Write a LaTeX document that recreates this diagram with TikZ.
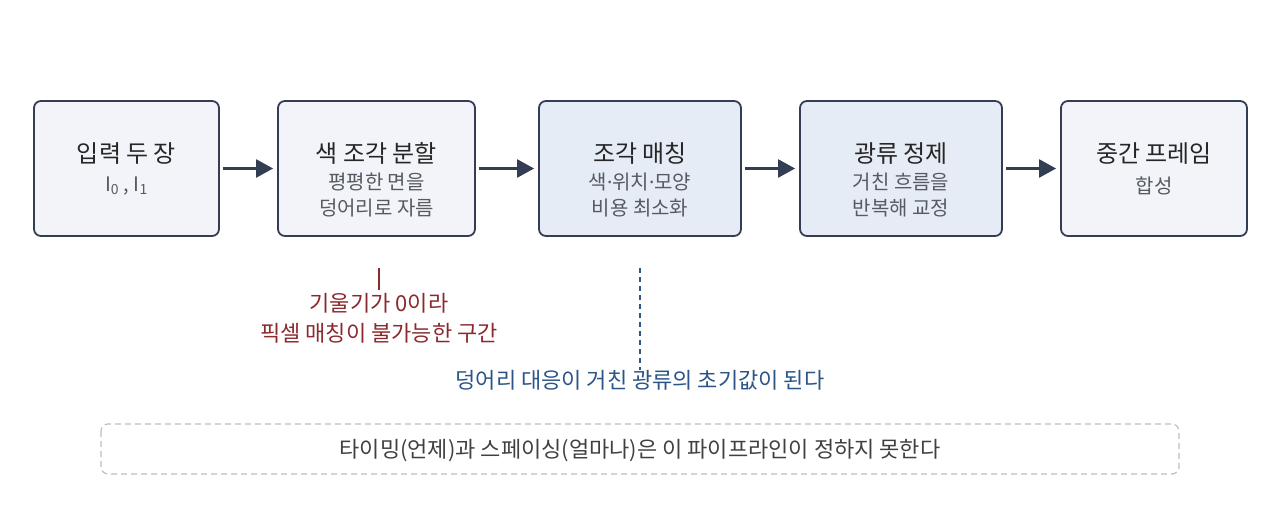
\documentclass[tikz,border=0pt]{standalone}
\usepackage{fontspec}
\setmainfont{Noto Sans CJK KR}
\newfontfamily\latinsans{Noto Sans}
\usetikzlibrary{arrows.meta, positioning}

\definecolor{edge}{HTML}{333D54}
\definecolor{pale}{HTML}{F2F4F9}
\definecolor{paleblue}{HTML}{E6ECF6}
\definecolor{subgray}{HTML}{555A63}
\definecolor{noteRed}{HTML}{8B2A2E}
\definecolor{noteBlue}{HTML}{2B5587}
\definecolor{boxgray}{HTML}{BDBDBD}

\newcommand{\mdot}{{\latinsans ·}}

\begin{document}
\begin{tikzpicture}[x=1pt, y=-1pt, thick,
    stage/.style={draw=edge, line width=1.8pt, rounded corners=7pt, fill=pale, minimum height=135pt},
    ttl/.style={font=\fontsize{24}{28}\selectfont, text=black!85},
    sub/.style={font=\fontsize{20}{26}\selectfont, text=subgray, align=center},
    note/.style={font=\fontsize{22}{30}\selectfont, align=center, inner sep=0pt},
    flow/.style={-{Triangle[length=17pt, width=18pt]}, draw=edge, fill=edge, line width=2.4pt}]
    \useasboundingbox (0,0) rectangle (1280,505);

    % pipeline stages
    \node[stage, minimum width=185pt] (inp) at (126.5,168.5) {};
    \node[stage, minimum width=197pt] (seg) at (376.5,168.5) {};
    \node[stage, minimum width=202pt, fill=paleblue] (mat) at (640,168.5) {};
    \node[stage, minimum width=202pt, fill=paleblue] (ref) at (901,168.5) {};
    \node[stage, minimum width=186pt] (syn) at (1154,168.5) {};

    \node[ttl] (inpT) at (126.5,153.5) {입력 두 장};
    \node[sub] (inpS) at (126.5,186) {I\textsubscript{0} , I\textsubscript{1}};
    \node[ttl] (segT) at (376.5,153.5) {색 조각 분할};
    \node[sub] (segS) at (376.5,195) {평평한 면을\\덩어리로 자름};
    \node[ttl] (matT) at (640,153.5) {조각 매칭};
    \node[sub] (matS) at (640,195) {색\mdot 위치\mdot 모양\\비용 최소화};
    \node[ttl] (refT) at (901,153.5) {광류 정제};
    \node[sub] (refS) at (901,195) {거친 흐름을\\반복해 교정};
    \node[ttl] (synT) at (1154,153.5) {중간 프레임};
    \node[sub] (synS) at (1154,186) {합성};

    \draw[flow, shorten <=3pt, shorten >=4pt] (inp) -- (seg);
    \draw[flow, shorten <=3pt, shorten >=4pt] (seg) -- (mat);
    \draw[flow, shorten <=3pt, shorten >=4pt] (mat) -- (ref);
    \draw[flow, shorten <=3pt, shorten >=4pt] (ref) -- (syn);

    % notes under the stages
    \coordinate (flatTop) at (379,268);
    \node[note, text=noteRed] (flat) at (379,318) {기울기가 0이라\\픽셀 매칭이 불가능한 구간};
    \draw[noteRed, line width=1.5pt, shorten >=3pt] (flatTop) -- (flat.north);

    \coordinate (seedTop) at (640,268);
    \node[note, text=noteBlue] (seed) at (640,380) {덩어리 대응이 거친 광류의 초기값이 된다};
    \draw[noteBlue, line width=1.3pt, dash pattern=on 5pt off 4pt] (seedTop) -- (seed.north);

    % limitation box
    \draw[boxgray, line width=1.2pt, dash pattern=on 6pt off 4pt, rounded corners=7pt] (101,424) rectangle (1179,474);
    \node[note, text=black!75] (limit) at (640,451) {타이밍(언제)과 스페이싱(얼마나)은 이 파이프라인이 정하지 못한다};
\end{tikzpicture}
\end{document}
